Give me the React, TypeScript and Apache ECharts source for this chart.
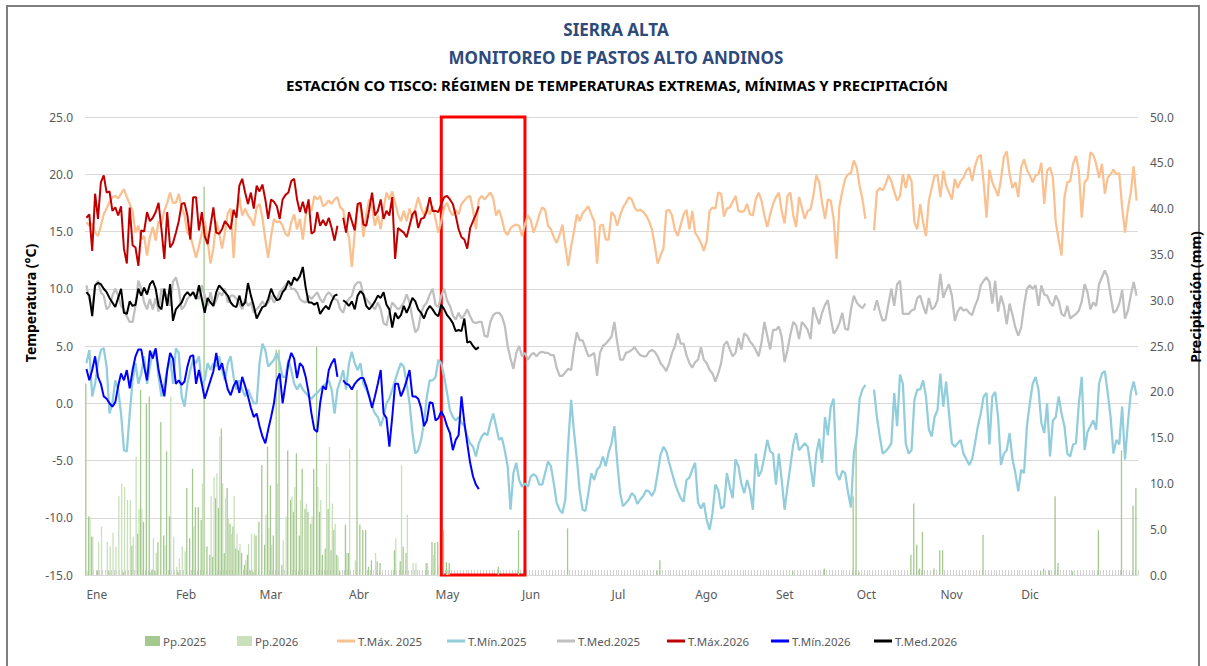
import React, { useEffect, useRef } from "react";
import * as echarts from "echarts";

const FONT = "'Noto Sans', 'DejaVu Sans', sans-serif";

const monthNames = ["Ene", "Feb", "Mar", "Abr", "May", "Jun", "Jul", "Ago", "Set", "Oct", "Nov", "Dic"];
const monthDays = [31, 28, 31, 30, 31, 30, 31, 31, 30, 31, 30, 31];
// day index under which each month label is written
const monthLabelIdx = [0, 31, 60, 91, 121, 151, 182, 211, 239, 267, 296, 324];

const days: string[] = [];
monthDays.forEach((n, m) => {
  for (let i = 1; i <= n; i++) days.push(`${i}-${monthNames[m]}`);
});

const seriesNames = ["Pp.2025", "Pp.2026", "T.Máx. 2025", "T.Mín.2025", "T.Med.2025", "T.Máx.2026", "T.Mín.2026", "T.Med.2026"];
// legend entry left positions (px)
const legendLeft = [145, 237, 337, 447, 557, 667, 771, 874];

// ---------- 2025 ----------
const tmax2025 = [
  // Ene
  15.8, 15.5, 15.7, 14.9, 14.6, 15.5, 16.5, 17.0, 17.6, 18.0, 18.1, 17.9, 18.3, 18.7, 18.0, 17.4, 16.8, 14.9, 15.5, 14.3, 14.6, 12.9, 14.5, 15.4, 14.2, 15.9, 15.6, 16.8, 17.5, 18.4, 17.5,
  // Feb
  17.5, 18.3, 17.1, 16.4, 14.9, 14.6, 13.7, 12.7, 13.7, 14.9, 15.9, 14.2, 12.2, 13.5, 15.9, 14.9, 13.5, 14.9, 16.6, 17.0, 12.7, 16.5, 18.0, 16.4, 17.0, 16.4, 16.1, 15.5,
  // Mar
  17.1, 17.4, 16.2, 14.3, 12.7, 14.6, 16.1, 15.8, 15.9, 15.5, 14.8, 14.6, 15.8, 16.5, 15.2, 16.1, 14.3, 16.4, 17.4, 16.8, 18.1, 17.8, 18.1, 17.2, 17.4, 17.7, 17.4, 17.8, 18.0, 17.1, 16.9,
  // Abr
  15.2, 14.5, 11.9, 14.9, 17.1, 17.5, 14.5, 16.5, 17.8, 17.1, 15.5, 16.4, 15.2, 17.0, 18.4, 17.8, 18.5, 17.5, 16.5, 15.9, 16.8, 15.9, 17.0, 16.1, 17.0, 18.0, 17.1, 16.4, 17.2, 16.5,
  // May
  17.2, 16.1, 14.9, 15.9, 17.1, 17.5, 16.8, 16.4, 16.9, 16.5, 17.4, 17.7, 18.0, 18.1, 16.9, 15.2, 17.8, 18.1, 17.8, 18.1, 18.4, 17.9, 16.4, 16.9, 16.1, 15.0, 14.7, 15.3, 15.5, 15.6, 15.5,
  // Jun
  14.6, 15.6, 16.4, 16.0, 14.9, 15.6, 16.5, 17.1, 16.9, 15.5, 15.2, 14.5, 14.0, 14.7, 15.6, 13.7, 12.0, 13.7, 15.0, 16.5, 15.9, 16.6, 16.9, 17.2, 16.5, 15.9, 12.2, 15.5, 15.6, 14.3,
  // Jul
  14.3, 16.7, 16.4, 15.5, 16.4, 17.1, 17.5, 18.0, 17.8, 17.1, 16.8, 16.9, 16.7, 16.4, 15.9, 15.2, 13.8, 12.2, 12.9, 13.5, 16.8, 16.9, 16.4, 15.1, 14.6, 15.6, 16.5, 16.9, 15.2, 16.8, 14.9,
  // Ago
  14.5, 14.0, 13.3, 14.2, 16.8, 17.1, 17.0, 18.4, 18.3, 16.3, 17.0, 17.1, 17.6, 18.1, 16.8, 16.7, 16.8, 17.4, 16.5, 16.4, 17.8, 18.4, 17.7, 16.4, 15.4, 16.5, 17.4, 18.0, 18.4, 16.8, 15.7,
  // Set
  18.1, 18.4, 16.4, 15.4, 18.0, 17.1, 16.1, 16.8, 16.9, 18.2, 19.9, 19.3, 17.5, 16.1, 17.8, 17.7, 16.1, 12.6, 17.2, 18.5, 19.6, 20.0, 20.1, 21.2, 20.6, 19.0, 17.8, 16.1, null, null,
  // Oct
  15.1, 18.5, 18.8, 18.6, 19.1, 19.9, 19.4, 18.5, 17.7, 18.1, 20.0, 18.8, 20.0, 19.4, 15.8, 15.2, 17.4, 15.8, 14.6, 17.7, 18.8, 19.9, 19.9, 18.0, 20.3, 19.0, 18.4, 17.8, 19.6, 18.8, 19.4,
  // Nov
  19.7, 20.3, 20.6, 19.4, 20.7, 21.5, 21.7, 19.3, 16.2, 20.4, 19.3, 18.7, 18.1, 19.6, 21.5, 22.0, 20.0, 18.8, 19.3, 18.0, 20.6, 21.3, 20.4, 19.9, 19.3, 19.9, 20.0, 21.0, 17.4, 20.3,
  // Dic
  20.6, 19.7, 15.8, 14.3, 12.9, 18.0, 19.3, 19.4, 20.9, 21.6, 20.3, 16.2, 19.3, 19.6, 21.9, 21.7, 20.9, 19.7, 20.9, 18.3, 19.7, 20.0, 20.4, 20.0, 20.1, 17.1, 14.9, 17.0, 18.4, 20.7, 17.7,
];

const tmin2025 = [
  3.5, 4.65, 0.6, 1.7, 3.5, 4.65, 4.8, 3.2, -0.9, 0.0, 2.0, 1.2, -0.9, -4.1, -4.2, -0.9, 2.0, 3.5, 1.7, 2.6, 4.1, 1.7, 3.2, 4.4, 4.65, 2.3, 0.6, 1.7, 2.9, 4.1, 1.7,
  4.8, 4.4, 0.6, -0.3, 1.7, 2.9, 3.8, 3.5, 4.1, 1.7, 2.0, 3.5, 2.9, 3.5, 3.2, 4.1, 2.9, 2.0, 3.5, 4.1, 2.3, 1.2, 2.0, 1.2, 0.6, 1.2, 0.6, 0.0,
  0.0, 3.5, 5.2, 4.65, 3.2, 3.5, 3.8, 4.4, 3.5, 2.3, 2.3, 3.8, 2.9, 1.7, 1.2, 1.7, 1.2, 0.9, 0.6, 0.4, 0.7, 0.9, 1.2, 1.5, 1.7, 2.0, 1.2, -0.9, 1.2, 2.0, 2.9,
  1.2, 3.5, 4.5, 3.5, 2.9, 3.5, 1.7, 1.2, 0.6, -0.3, -0.9, -1.2, -2.0, -1.2, 0.0, 0.4, 1.2, 2.0, 2.8, 3.5, 3.2, 1.7, 0.0, -2.6, -4.4, -4.1, -3.2, -1.7, 0.6, 2.0,
  2.0, 2.3, 3.8, 3.5, 2.3, 0.9, -0.6, -1.2, -1.5, -1.2, -1.7, -2.0, -2.9, -3.5, -3.8, -4.65, -3.5, -2.9, -2.6, -2.8, -1.7, -0.9, -2.0, -3.2, -3.0, -4.1, -5.5, -9.3, -6.1, -5.2, -6.7,
  -7.3, -7.0, -7.3, -6.4, -6.2, -6.4, -7.1, -7.1, -6.1, -5.1, -5.5, -7.0, -8.7, -9.3, -9.6, -8.4, -3.5, 0.3, -2.5, -4.9, -7.7, -9.3, -9.4, -7.8, -6.1, -6.7, -5.8, -5.5, -4.65, -5.5,
  -4.3, -3.5, -2.0, -5.2, -7.85, -9.0, -8.7, -8.4, -7.85, -8.1, -8.8, -8.4, -8.1, -7.6, -7.7, -8.1, -7.6, -6.1, -4.5, -3.8, -4.2, -5.2, -6.1, -7.0, -7.7, -8.3, -8.6, -6.7, -6.5, -5.8, -5.2,
  -8.7, -9.2, -8.7, -10.2, -11.05, -9.6, -7.1, -7.6, -9.2, -9.0, -6.1, -7.3, -8.3, -4.9, -5.5, -7.0, -7.85, -6.7, -7.6, -9.3, -4.4, -6.4, -5.9, -4.65, -3.2, -4.2, -4.4, -7.1, -4.4, -6.7, -9.3,
  -7.3, -5.5, -3.6, -2.6, -4.1, -3.8, -3.5, -3.8, -5.5, -7.3, -4.4, -3.1, -5.2, -1.2, -2.8, -0.3, 0.4, -6.1, -6.7, -5.9, -6.1, -7.8, -9.1, -4.4, -2.9, 0.4, 1.2, 1.6, null, null,
  1.2, -1.2, -2.9, -4.4, -4.2, -3.9, -3.5, 0.9, -2.0, 2.5, 1.7, -3.5, -4.4, -4.1, 0.3, 1.2, 1.2, 2.0, 0.6, -2.3, -2.9, -1.2, -0.6, 2.6, -0.3, 1.9, -0.9, -3.5, -3.8, -3.5, -3.2,
  -4.4, -4.9, -5.4, -4.9, -3.5, -2.0, -0.9, 0.6, 0.9, -3.6, 0.6, 1.0, -1.2, -5.4, -4.4, -4.1, -2.6, -4.9, -6.1, -7.7, -5.8, -6.1, -2.0, 0.0, 1.7, 2.3, 1.2, -1.7, -2.6, 0.0,
  -4.65, -1.5, -1.2, 0.6, -0.9, -2.0, -4.4, -4.65, -3.6, -3.5, 0.0, 2.3, -4.1, -2.5, -2.0, -1.5, -2.3, 1.7, 2.6, 2.8, 0.9, -1.2, -4.4, -3.2, -3.6, -0.3, -4.9, -1.7, 0.9, 1.9, 0.7,
];

const tmed2025 = [
  10.3, 9.1, 8.2, 10.3, 10.7, 9.7, 9.4, 8.2, 8.5, 9.4, 10.0, 9.4, 8.5, 8.2, 7.6, 7.1, 7.1, 8.5, 10.7, 10.0, 8.8, 8.2, 9.1, 8.2, 9.2, 8.0, 10.0, 9.7, 9.4, 8.5, 10.6,
  11.0, 10.0, 8.2, 8.5, 9.1, 9.4, 9.7, 9.4, 9.1, 10.3, 9.4, 8.5, 9.7, 8.5, 9.0, 9.7, 9.4, 10.0, 8.8, 9.4, 9.4, 9.1, 8.7, 8.2, 9.1, 8.5, 8.8, 7.9,
  8.2, 8.5, 8.9, 8.5, 8.8, 9.4, 8.8, 9.1, 9.7, 10.0, 10.3, 10.6, 10.0, 10.0, 9.7, 9.1, 8.9, 8.8, 9.4, 9.1, 9.4, 9.7, 9.1, 8.8, 9.4, 9.7, 9.4, 9.1, 9.0, 8.2, 7.9,
  8.8, 9.1, 9.4, 10.3, 10.55, 10.55, 9.5, 9.1, 8.8, 8.5, 8.2, 8.8, 8.2, 7.0, 6.8, 7.9, 8.8, 8.5, 8.2, 8.4, 8.8, 9.5, 8.8, 7.4, 6.2, 6.5, 7.9, 8.5, 8.8, 9.5,
  10.0, 8.6, 8.4, 9.4, 10.0, 9.0, 8.5, 7.7, 7.3, 7.9, 7.4, 7.7, 8.2, 7.6, 7.1, 7.0, 7.1, 7.1, 5.9, 5.8, 7.1, 7.7, 7.9, 7.9, 7.6, 6.8, 5.0, 3.9, 3.0, 4.4, 5.0,
  4.1, 4.4, 3.8, 4.2, 4.4, 4.1, 4.4, 4.5, 4.4, 4.4, 4.2, 4.2, 3.1, 2.4, 2.4, 2.7, 3.0, 2.9, 4.8, 6.2, 5.5, 5.5, 4.8, 4.1, 4.2, 4.4, 2.4, 4.4, 5.0, 5.2,
  5.5, 5.8, 7.1, 5.3, 3.8, 3.8, 4.4, 4.5, 4.65, 4.9, 4.5, 4.2, 4.1, 4.1, 4.5, 4.65, 4.5, 4.1, 3.5, 3.2, 2.8, 3.5, 4.4, 5.0, 6.1, 5.2, 5.2, 4.2, 3.5, 3.1, 3.6,
  3.8, 4.9, 3.8, 3.5, 2.9, 2.6, 1.9, 2.6, 3.5, 5.1, 5.4, 4.7, 4.1, 4.4, 5.7, 4.7, 6.1, 5.9, 5.4, 5.1, 4.65, 4.1, 5.3, 7.1, 5.9, 4.7, 6.4, 6.4, 6.7, 5.8, 3.6,
  4.65, 6.0, 7.1, 6.8, 5.6, 7.1, 6.8, 6.4, 5.6, 8.4, 7.6, 6.9, 7.9, 8.6, 9.0, 7.4, 6.1, 6.4, 7.0, 7.9, 6.5, 6.4, 8.2, 9.4, 8.8, 8.5, 8.3, 8.7, null, null,
  8.1, 9.0, 8.0, 7.2, 7.3, 8.7, 10.0, 8.5, 10.4, 10.7, 7.8, 7.8, 7.8, 8.1, 8.2, 9.2, 9.4, 8.5, 7.8, 9.2, 8.2, 8.4, 9.0, 11.3, 9.2, 9.9, 10.4, 9.4, 7.2, 8.0, 8.4,
  8.1, 8.2, 7.9, 7.7, 8.5, 9.1, 10.3, 10.7, 11.0, 10.6, 8.7, 10.7, 8.0, 9.4, 8.5, 6.9, 8.7, 7.7, 6.6, 5.9, 6.6, 8.5, 10.0, 10.3, 10.0, 10.3, 8.5, 10.3, 9.5, 9.4,
  8.8, 8.5, 9.4, 8.9, 7.8, 7.6, 8.5, 7.4, 7.6, 7.8, 8.1, 8.9, 10.4, 9.7, 8.2, 8.8, 8.5, 10.4, 11.0, 11.6, 11.0, 9.4, 7.9, 8.1, 8.7, 9.9, 7.4, 8.1, 9.4, 10.6, 9.4,
];

const pp2025 = [
  20.9, 6.4, 4.2, 0, 0.5, 0, 0, 0, 0.4, 0, 0, 0, 0, 0.3, 0, 0, 3.2, 0, 4.5, 20.2, 5.8, 18.7, 19.5, 0.6, 0.4, 3.6, 16.7, 4.3, 13.5, 6.4, 0,
  0, 0.3, 0, 0, 9.5, 4.0, 11.6, 7.4, 7.4, 6.0, 42.4, 3.1, 2.2, 2.0, 8.4, 7.3, 16.0, 2.4, 9.5, 5.6, 5.3, 2.9, 2.7, 2.4, 1.1, 2.2, 0.5, 0.3,
  4.3, 5.8, 12.0, 3.3, 14.0, 9.8, 4.3, 24.6, 24.6, 1.1, 0, 13.6, 8.2, 6.9, 13.3, 4.3, 11.6, 7.2, 6.9, 5.6, 11.6, 24.9, 6.9, 2.2, 2.9, 7.2, 2.7, 4.9, 2.2, 0.4, 0,
  5.5, 2.4, 0, 0, 20.2, 5.5, 4.9, 4.9, 0.9, 1.6, 0, 1.5, 1.3, 0, 0, 0, 0, 2.7, 0, 1.5, 3.1, 2.4, 0, 0, 0, 0, 0, 0, 1.3, 0,
  3.6, 3.5, 3.6, 0, 4.9, 1.4, 1.3, 0, 0, 0, 0, 0, 0, 0, 0, 0, 0, 0, 0, 0, 0, 0, 0, 0.9, 0, 0, 0, 0, 0, 0, 4.9,
  0, 0, 0, 0, 0, 0, 0, 0, 0, 0, 0, 0, 0, 0, 0, 0, 5.1, 0, 0, 0, 0, 0, 0, 0, 0, 0, 0, 0, 0, 0,
  0, 0, 0, 0, 0, 0, 0, 0, 0, 0, 0, 0, 0, 0, 0, 0, 0, 0.5, 1.6, 0, 0, 0, 0, 0, 0, 0, 0, 0, 0, 0, 0,
  0, 0, 0, 0, 0, 0, 0, 0, 0, 0, 0, 0, 0, 0, 0, 0, 0, 0, 0, 0, 0, 0, 0, 0, 0, 0, 0, 0, 0, 0, 0,
  0, 0, 0.4, 0, 0, 0, 0, 0, 0, 0, 0, 0, 0, 0.7, 0, 0, 0, 0, 0, 0, 0, 0, 0, 8.6, 15.1, 0.3, 0, 0, 0, 0,
  0, 0, 0, 0, 0, 0, 0, 0, 0, 0, 0, 0, 0, 2.2, 7.8, 3.3, 0.7, 4.7, 0, 0, 0, 0.7, 0, 2.7, 2.7, 0, 0, 0, 0, 0, 0,
  0, 0, 0, 0, 0, 0, 0, 4.4, 0, 0, 0, 0, 0, 0, 0, 0, 0, 0, 0, 0, 0, 0, 0, 0, 0, 0, 0, 0.4, 0.7, 0,
  0.5, 0, 8.6, 1.3, 0, 0, 0, 0, 0.4, 0, 0, 0, 0, 0, 0, 0, 0, 4.9, 0, 0, 0, 0, 0, 0, 0, 13.6, 0, 0, 0, 7.6, 9.5,
];

// ---------- 2026 (Ene – mid May) ----------
const tmax2026 = [
  16.2, 16.5, 13.3, 18.3, 16.1, 19.3, 19.9, 18.4, 18.5, 16.8, 17.1, 16.4, 17.2, 13.5, 12.2, 17.1, 13.8, 13.6, 12.0, 15.1, 15.0, 16.7, 15.9, 16.2, 16.7, 17.5, 15.2, 12.6, 16.7, 13.6, 14.0,
  14.9, 15.9, 17.4, 17.5, 16.4, 14.3, 18.0, 18.0, 15.1, 16.7, 14.6, 13.9, 15.5, 17.1, 14.9, 14.8, 15.2, 15.9, 15.6, 15.2, 16.9, 16.2, 19.0, 19.6, 18.4, 17.4, 18.4, 17.0,
  19.0, 18.5, 19.1, 17.8, 16.1, 17.8, 17.6, 17.2, 16.1, 17.8, 18.2, 18.4, 19.4, 19.6, 17.8, 16.7, 17.6, 16.6, 17.8, 14.8, 15.0, 16.7, 15.5, 16.0, 15.5, 16.2, 15.3, 14.2, 15.5, null, 16.2,
  14.9, 16.7, 15.9, 15.1, 17.4, 17.5, 15.6, 15.5, 16.9, 18.4, 16.4, 16.8, 17.8, 16.1, 16.8, 16.4, 18.0, 12.6, 15.3, 15.1, 14.9, 14.5, 15.5, 16.5, 16.8, 15.3, 16.1, 16.2, 16.8, 18.0,
  16.8, 16.8, 16.7, 17.4, 18.0, 18.1, 17.8, 17.4, 16.4, 15.2, 14.5, 14.3, 13.5, 15.3, 15.9, 16.5, 17.2,
];

const tmin2026 = [
  3.0, 2.0, 2.9, 4.1, 2.3, 1.7, 0.6, 0.4, 0.0, -0.3, 0.1, 1.5, 2.6, 2.0, 2.9, 1.3, 2.9, 4.1, 4.7, 4.7, 3.2, 2.0, 4.6, 3.9, 4.8, 2.9, 1.7, 0.6, 2.9, 4.4, 3.9,
  1.7, 2.0, 1.6, 1.9, 3.2, 4.1, 4.2, 1.7, 2.9, 1.7, 0.4, 1.2, 2.0, 2.8, 4.4, 2.9, 3.5, 2.3, 1.2, 0.7, 1.5, 2.0, 0.9, 2.3, 1.5, 0.6, -0.4, -1.2,
  -0.9, -2.0, -2.9, -3.5, -2.3, -1.2, 0.0, 2.0, 2.6, 0.0, 1.7, 3.5, 4.4, 3.9, 2.2, 3.5, 3.2, 2.3, 0.9, -0.9, -2.3, -2.5, 0.0, 1.5, 1.2, 2.9, 3.5, 3.9, 2.3, null, 2.0,
  1.7, 1.6, 1.2, 1.7, 2.0, 2.2, 2.2, 1.5, 0.6, -0.4, 0.6, 1.7, 2.9, -0.9, -1.3, -3.8, -1.2, 1.7, 1.7, 0.6, 1.2, 2.0, 2.9, 0.6, 0.6, 0.4, -0.4, -2.0, -1.5, 0.1,
  0.0, -1.5, -1.3, -0.7, -1.2, -2.0, -2.6, -4.1, -3.2, -2.8, 0.6, -1.7, -3.5, -5.2, -6.4, -7.1, -7.5,
];

const tmed2026 = [
  9.7, 9.4, 7.6, 10.3, 10.5, 10.4, 10.0, 9.7, 9.2, 8.8, 8.4, 9.2, 10.0, 7.9, 7.8, 8.9, 8.5, 8.6, 10.0, 9.4, 10.1, 9.5, 10.4, 10.7, 10.0, 8.5, 8.2, 10.0, 8.5, 10.4, 7.2,
  8.2, 8.5, 8.8, 9.4, 9.7, 9.4, 9.7, 9.1, 10.3, 9.1, 7.9, 9.2, 8.8, 8.5, 9.7, 10.3, 10.0, 9.7, 9.4, 8.8, 8.5, 8.4, 9.4, 8.5, 8.8, 10.5, 9.4, 8.5,
  7.4, 7.9, 8.4, 8.5, 9.1, 10.0, 9.4, 9.0, 9.1, 9.7, 10.0, 10.7, 10.3, 11.0, 10.7, 11.1, 11.9, 10.1, 8.8, 8.8, 8.6, 8.8, 7.8, 8.2, 8.5, 8.2, 8.9, 9.4, 9.5, null, 9.0,
  8.8, 8.5, 8.9, 8.2, 9.4, 9.8, 9.5, 8.5, 8.2, 8.5, 8.9, 9.4, 9.2, 9.7, 8.6, 8.2, 6.6, 7.9, 7.4, 7.7, 8.5, 7.9, 8.5, 9.2, 8.9, 8.2, 7.9, 7.4, 8.1, 8.5,
  8.2, 7.8, 7.6, 8.6, 8.2, 7.7, 7.4, 7.0, 6.3, 6.4, 6.3, 7.4, 5.3, 5.4, 5.0, 4.7, 4.9,
];

const pp2026 = [
  0.5, 6.4, 4.2, 0, 3.6, 5.3, 0, 3.6, 3.1, 4.6, 3.1, 8.6, 10.0, 9.6, 8.2, 8.2, 4.2, 12.9, 7.2, 7.2, 0, 0, 0.3, 4.0, 2.4, 0, 0, 3.3, 0, 19.5, 4.2,
  0.9, 1.8, 3.1, 2.6, 0, 0, 5.3, 0, 0, 10.0, 0, 0, 8.6, 10.7, 11.1, 15.1, 10.0, 8.4, 6.2, 4.5, 8.6, 4.5, 3.4, 0, 1.6, 3.4, 4.5, 4.5,
  0, 0, 0, 6.6, 5.1, 3.3, 0, 10.0, 0, 3.8, 6.4, 0, 8.6, 9.6, 0, 8.2, 0, 7.8, 0, 6.4, 0, 9.6, 8.2, 0, 12.2, 14.0, 7.8, 5.6, 2.0, 0, 0,
  2.4, 13.8, 0, 1.6, 0, 0, 0, 0, 0, 0, 2.4, 0, 0, 0, 0, 0, 0, 4.0, 0, 12.0, 0, 6.6, 0, 1.3, 1.3, 0, 0, 0, 1.3, 0,
  2.2, 0, 1.0, 0, 0, 0.5, 0, 0, 0, 0, 0, 0, 0, 0, 0, 0, 0,
];

// highlighted period (red frame): day range and temperature range
const frameDays = [123, 152];
const frameTemps = [25, -15];

const colors = ["#A3C98E", "#C9E0BB", "#FAC08F", "#92CDDC", "#BFBFBF", "#C00000", "#0000FF", "#000000"];

function lineSeries(i: number, data: (number | null)[], width: number, extra: any = {}) {
  return {
    name: seriesNames[i],
    type: "line",
    data,
    yAxisIndex: 0,
    symbol: "none",
    showSymbol: false,
    connectNulls: false,
    lineStyle: { color: colors[i], width },
    itemStyle: { color: colors[i] },
    ...extra,
  };
}

export default function App() {
  const ref = useRef<HTMLDivElement>(null);

  useEffect(() => {
    if (!ref.current) return;
    const chart = echarts.init(ref.current, undefined, { renderer: "svg" });

    const legends = seriesNames.map((n, i) => ({
      left: legendLeft[i],
      top: 635,
      data: [n],
      icon: "rect",
      itemWidth: i < 2 ? 15 : 18,
      itemHeight: i < 2 ? 10 : 3,
      itemGap: 0,
      padding: 0,
      textStyle: { color: "#595959", fontSize: 11.5, fontFamily: FONT, padding: [0, 0, 0, -2] },
    }));

    const option: any = {
      animation: false,
      backgroundColor: "#FFFFFF",
      textStyle: { fontFamily: FONT },
      grid: { left: 85, right: 69, top: 117, bottom: 91, containLabel: false },
      legend: legends,
      xAxis: {
        type: "category",
        data: days,
        boundaryGap: true,
        axisLine: { show: true, onZero: false, lineStyle: { color: "#D9D9D9" } },
        axisTick: { show: true, interval: 0, inside: true, length: 5, lineStyle: { color: "#D0D0D0" } },
        axisLabel: {
          interval: (idx: number) => monthLabelIdx.includes(idx),
          formatter: (_v: string, idx: number) => monthNames[monthLabelIdx.indexOf(idx)] ?? "",
          align: "left",
          margin: 13,
          color: "#595959",
          fontSize: 12,
          fontFamily: FONT,
        },
        splitLine: { show: false },
      },
      yAxis: [
        {
          type: "value",
          min: -15,
          max: 25,
          interval: 5,
          axisLine: { show: false },
          axisTick: { show: false },
          axisLabel: { formatter: (v: number) => v.toFixed(1), color: "#595959", fontSize: 12, margin: 12, fontFamily: FONT },
          splitLine: { lineStyle: { color: "#D9D9D9", width: 1 } },
        },
        {
          type: "value",
          min: 0,
          max: 50,
          interval: 5,
          axisLine: { show: false },
          axisTick: { show: false },
          axisLabel: { formatter: (v: number) => v.toFixed(1), color: "#595959", fontSize: 12, margin: 12, fontFamily: FONT },
          splitLine: { show: false },
        },
      ],
      series: [
        {
          name: seriesNames[0],
          type: "bar",
          yAxisIndex: 1,
          data: pp2025,
          itemStyle: { color: colors[0] },
          barGap: "0%",
          barCategoryGap: "10%",
        },
        {
          name: seriesNames[1],
          type: "bar",
          yAxisIndex: 1,
          data: pp2026,
          itemStyle: { color: colors[1] },
          barGap: "0%",
          barCategoryGap: "10%",
        },
        lineSeries(2, tmax2025, 2.25, {
          markArea: {
            silent: true,
            itemStyle: { color: "rgba(0,0,0,0)", borderColor: "#FF0000", borderWidth: 3 },
            data: [[
              { xAxis: days[frameDays[0]], yAxis: frameTemps[0] },
              { xAxis: days[frameDays[1]], yAxis: frameTemps[1] },
            ]],
          },
        }),
        lineSeries(3, tmin2025, 2.25),
        lineSeries(4, tmed2025, 2.25),
        lineSeries(5, tmax2026, 2),
        lineSeries(6, tmin2026, 2),
        lineSeries(7, tmed2026, 2),
      ],
      graphic: [
        {
          type: "rect",
          shape: { x: 7, y: 6, width: 1192, height: 700 },
          style: { fill: "none", stroke: "#7F7F7F", lineWidth: 2 },
          silent: true,
        },
        {
          type: "text",
          x: 616,
          y: 29,
          style: { text: "SIERRA ALTA", fontSize: 17, fontWeight: "bold", fontFamily: FONT, fill: "#2E4A7A", textAlign: "center", textVerticalAlign: "middle" },
        },
        {
          type: "text",
          x: 616,
          y: 57,
          style: { text: "MONITOREO DE PASTOS ALTO ANDINOS", fontSize: 17, fontWeight: "bold", fontFamily: FONT, fill: "#2E4A7A", textAlign: "center", textVerticalAlign: "middle" },
        },
        {
          type: "text",
          x: 617,
          y: 85,
          style: {
            text: "ESTACIÓN CO TISCO: RÉGIMEN DE TEMPERATURAS EXTREMAS, MÍNIMAS Y PRECIPITACIÓN",
            fontSize: 15,
            fontWeight: "bold",
            fontFamily: FONT,
            fill: "#000000",
            textAlign: "center",
            textVerticalAlign: "middle",
          },
        },
        {
          type: "text",
          x: 30,
          y: 303,
          rotation: Math.PI / 2,
          style: { text: "Temperatura (°C)", fontSize: 14, fontWeight: "bold", fontFamily: FONT, fill: "#000000", textAlign: "center", textVerticalAlign: "middle" },
        },
        {
          type: "text",
          x: 1195,
          y: 297,
          rotation: Math.PI / 2,
          style: { text: "Precipitación (mm)", fontSize: 14, fontWeight: "bold", fontFamily: FONT, fill: "#000000", textAlign: "center", textVerticalAlign: "middle" },
        },
      ],
    };

    chart.setOption(option);
    return () => chart.dispose();
  }, []);

  return <div ref={ref} style={{ position: "fixed", left: 0, top: 0, width: 1207, height: 666 }} />;
}
